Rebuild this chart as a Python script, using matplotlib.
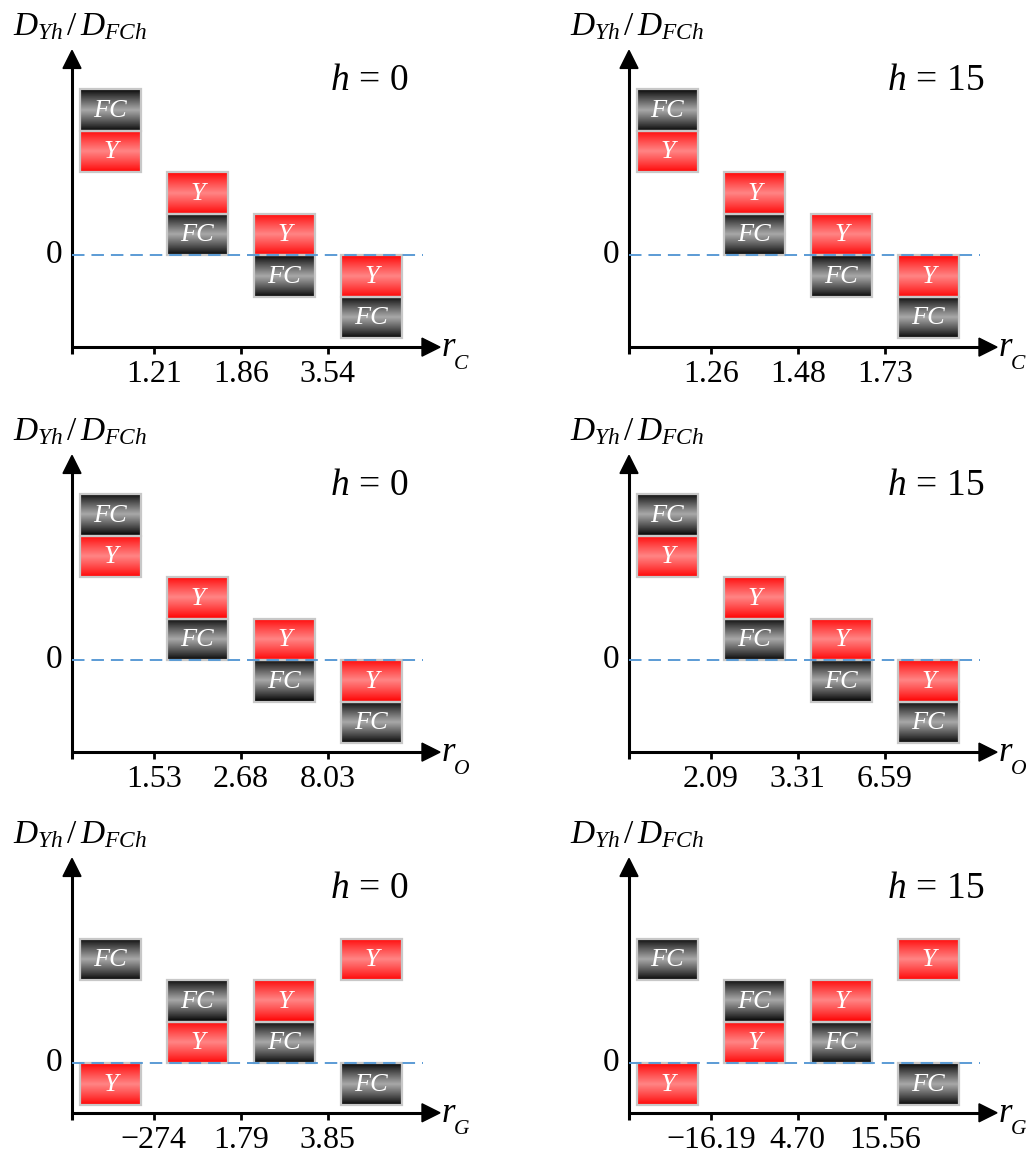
import numpy as np
import matplotlib
matplotlib.use('Agg')
import matplotlib.pyplot as plt
from matplotlib.patches import Rectangle, Polygon

plt.rcParams['mathtext.fontset'] = 'custom'
plt.rcParams['mathtext.rm'] = 'Liberation Serif'
plt.rcParams['mathtext.it'] = 'Liberation Serif:italic'
plt.rcParams['font.family'] = ['Liberation Serif', 'DejaVu Serif']
plt.rcParams['lines.scale_dashes'] = False

# stack level (bottom edge, in box heights) of each box per column
y_level_C = [2, 1, 0, -1]
fc_level_C = [3, 0, -1, -2]
y_level_O = [2, 1, 0, -1]
fc_level_O = [3, 0, -1, -2]
y_level_G = [-1, 0, 1, 2]
fc_level_G = [2, 1, 0, -1]

labels_C_h0 = ['1.21', '1.86', '3.54']
labels_C_h15 = ['1.26', '1.48', '1.73']
labels_O_h0 = ['1.53', '2.68', '8.03']
labels_O_h15 = ['2.09', '3.31', '6.59']
labels_G_h0 = ['\u2212274', '1.79', '3.85']
labels_G_h15 = ['\u221216.19', '4.70', '15.56']

h_values = [0, 15]

W, H = 1027, 1158
PX_X, PX_Y = 87.0, 41.5          # pixels per data unit
col_x0 = [72, 629]               # y-axis position (px)
row_y0 = [255, 660, 1063]        # zero line position (px)
row_axis = [-2.22, -2.22, -1.2]  # x-axis level
XLIM = (-0.9, 4.7)
YLIM = (-3.0, 5.8)


def gradient(edge, mid, n=64):
    t = np.linspace(0, 1, n)
    v = 1 - np.abs(2 * t - 1)
    v = v ** 0.9
    edge, mid = np.array(edge), np.array(mid)
    return (edge[None, :] + (mid - edge)[None, :] * v[:, None])[:, None, :]


RED = gradient([1.0, 0.02, 0.02], [1.0, 0.52, 0.52])
BLACK = gradient([0.02, 0.02, 0.02], [0.66, 0.66, 0.66])


def draw_box(ax, x, level, img, text):
    x0, x1 = x + 0.092, x + 0.792
    ax.imshow(img, extent=(x0, x1, level, level + 1), aspect='auto',
              interpolation='bilinear', origin='lower', zorder=2, clip_on=False)
    ax.add_patch(Rectangle((x0, level), x1 - x0, 1, fill=False, ec='#c8c8c8',
                           lw=1.6, zorder=3, clip_on=False))
    ax.text((x0 + x1) / 2, level + 0.48, text, color='white', fontsize=19,
            style='italic', ha='center', va='center', zorder=4)


def draw_panel(ax, var, h, labels, y_levels, fc_levels, axis_y):
    ax.set_xlim(*XLIM)
    ax.set_ylim(*YLIM)
    ax.axis('off')

    for i in range(len(y_levels)):
        draw_box(ax, i, y_levels[i], RED, 'Y')
        draw_box(ax, i, fc_levels[i], BLACK, 'FC')

    ax.plot([0, 4.03], [0, 0], color='#5b9bd5', lw=1.4, dashes=(9, 5),
            zorder=5, clip_on=False)

    tip_y, tip_x = 4.93, 4.23
    hl_y, hw_y = 18 / PX_Y, 9 / PX_X
    hl_x, hw_x = 18 / PX_X, 9 / PX_Y
    tick = 7 / PX_Y
    ax.plot([0, 0], [axis_y - tick, tip_y - hl_y], color='black', lw=2.2,
            solid_capstyle='butt', clip_on=False)
    ax.plot([0, tip_x - hl_x], [axis_y, axis_y], color='black', lw=2.2,
            solid_capstyle='butt', clip_on=False)
    ax.add_patch(Polygon([[0, tip_y], [-hw_y, tip_y - hl_y], [hw_y, tip_y - hl_y]],
                         closed=True, color='black', clip_on=False))
    ax.add_patch(Polygon([[tip_x, axis_y], [tip_x - hl_x, axis_y + hw_x],
                          [tip_x - hl_x, axis_y - hw_x]],
                         closed=True, color='black', clip_on=False))

    for i, lab in enumerate(labels):
        xt = i + 0.94
        ax.plot([xt, xt], [axis_y, axis_y - tick], color='black', lw=2.0,
                solid_capstyle='butt', clip_on=False)
        ax.text(xt, axis_y - 0.84, lab, fontsize=23, ha='center',
                va='baseline', clip_on=False)

    ax.text(-0.11, 0, '0', fontsize=24, ha='right', va='center')
    ax.text(-0.68, 5.3, r'$D_{Yh}\,/\,D_{FCh}$', fontsize=24, ha='left',
            va='baseline', clip_on=False)
    ax.text(2.97, 3.98, r'$h\,=\,%d$' % h, fontsize=27, ha='left',
            va='baseline')
    # axis name r_var, drawn as two pieces so it fits the figure edge
    ax.text(4.245, axis_y - 0.22, 'r', fontsize=25, style='italic',
            ha='left', va='baseline', clip_on=False)
    ax.text(4.385, axis_y - 0.52, var, fontsize=15.5, style='italic',
            ha='left', va='baseline', clip_on=False)


panels = [
    (0, 0, 'C', labels_C_h0, y_level_C, fc_level_C),
    (0, 1, 'C', labels_C_h15, y_level_C, fc_level_C),
    (1, 0, 'O', labels_O_h0, y_level_O, fc_level_O),
    (1, 1, 'O', labels_O_h15, y_level_O, fc_level_O),
    (2, 0, 'G', labels_G_h0, y_level_G, fc_level_G),
    (2, 1, 'G', labels_G_h15, y_level_G, fc_level_G),
]

fig = plt.figure(figsize=(W / 100, H / 100), dpi=100)

for r, c, var, labels, yl, fl in panels:
    left_px = col_x0[c] + XLIM[0] * PX_X
    bottom_px = row_y0[r] - YLIM[0] * PX_Y
    ax = fig.add_axes([left_px / W, 1 - bottom_px / H,
                       (XLIM[1] - XLIM[0]) * PX_X / W,
                       (YLIM[1] - YLIM[0]) * PX_Y / H])
    ax.patch.set_alpha(0)
    draw_panel(ax, var, h_values[c], labels, yl, fl, row_axis[r])

fig.savefig('out.png', dpi=100)
